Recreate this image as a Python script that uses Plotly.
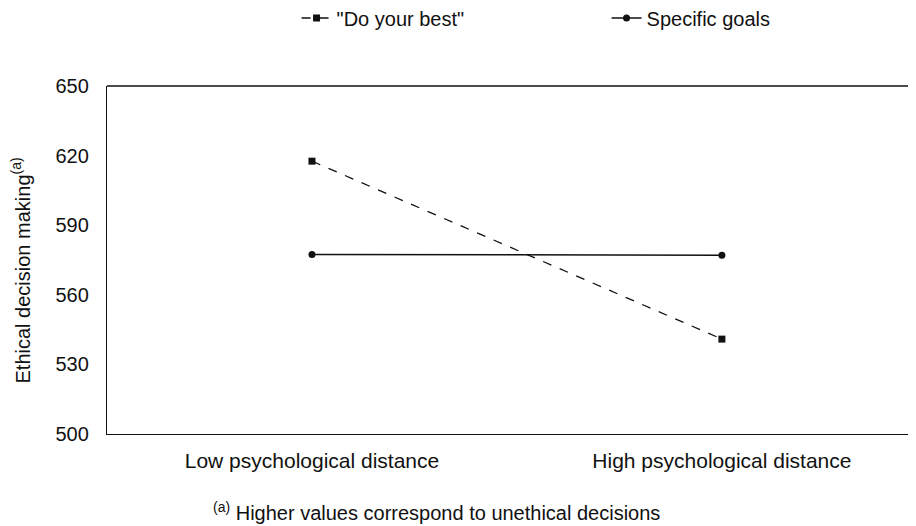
import plotly.graph_objects as go

categories = ["Low psychological distance", "High psychological distance"]
do_your_best = [617.6, 540.9]
specific_goals = [577.4, 577.1]
y_ticks = [500, 530, 560, 590, 620, 650]

FONT = "Arial, Liberation Sans, sans-serif"

fig = go.Figure()
fig.add_trace(go.Scatter(
    x=categories, y=do_your_best, name='"Do your best"', mode="lines+markers",
    line=dict(color="#111111", width=1.3, dash="dash"),
    marker=dict(symbol="square", size=7, color="#111111"),
))
fig.add_trace(go.Scatter(
    x=categories, y=specific_goals, name="Specific goals", mode="lines+markers",
    line=dict(color="#111111", width=1.5),
    marker=dict(symbol="circle", size=7, color="#111111"),
))

fig.update_layout(
    width=916, height=526,
    margin=dict(l=99, r=0, t=78, b=100),
    paper_bgcolor="white", plot_bgcolor="white",
    font=dict(family=FONT, size=20, color="#111111"),
    showlegend=True,
    legend=dict(orientation="h", x=0.232, xref="paper", xanchor="left",
                y=0.981, yref="container", yanchor="middle",
                font=dict(size=20), entrywidth=265, entrywidthmode="pixels"),
    xaxis=dict(type="category", range=[-0.5, 1.493], showgrid=False, zeroline=False,
               showline=True, linecolor="#111111", linewidth=1.3,
               ticks="", ticklabelstandoff=8, tickfont=dict(size=21)),
    yaxis=dict(range=[500, 650], tickvals=y_ticks, showgrid=False, zeroline=False,
               showline=True, linecolor="#111111", linewidth=1.3,
               ticks="", ticklabelstandoff=13, tickfont=dict(size=20)),
    shapes=[
        dict(type="line", xref="paper", yref="paper", x0=0, x1=1, y0=1, y1=1,
             line=dict(color="#111111", width=1.3)),
        dict(type="line", xref="paper", yref="paper", x0=0.999, x1=0.999, y0=0, y1=1,
             line=dict(color="#dddddd", width=1)),
    ],
    annotations=[
        dict(text="Ethical decision making<sup>(a)</sup>", textangle=-90,
             xref="paper", yref="paper", x=-0.106, y=0.471,
             xanchor="center", yanchor="middle", showarrow=False,
             font=dict(size=20)),
        dict(text="<sup>(a)</sup> Higher values correspond to unethical decisions",
             xref="paper", yref="paper", x=0.403, y=-0.224,
             xanchor="center", yanchor="middle", showarrow=False,
             font=dict(size=20)),
    ],
)

fig.write_html("out.html")
